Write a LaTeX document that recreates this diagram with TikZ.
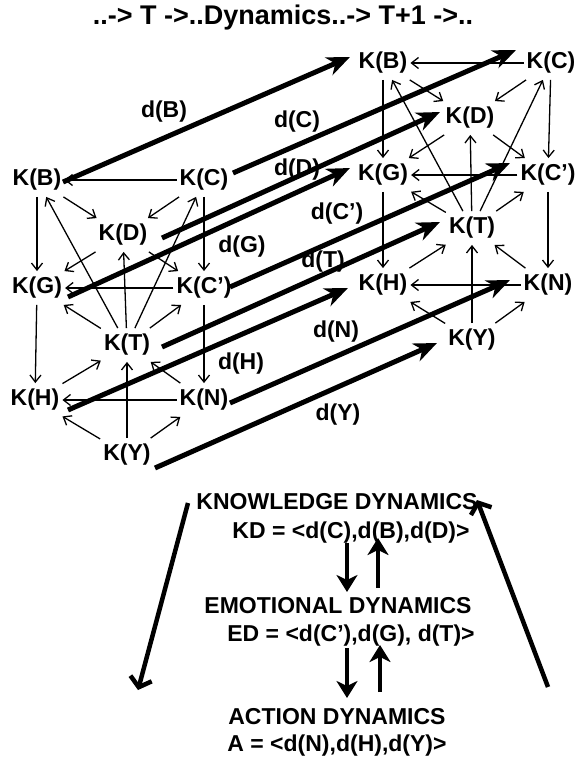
\documentclass[tikz,border=0pt]{standalone}
\usepackage{fontspec}
\setmainfont{Liberation Sans}
\usetikzlibrary{arrows.meta,calc}
\begin{document}
\begin{tikzpicture}[x=1pt,y=-1pt,
  kn/.style={font=\bfseries\fontsize{23}{25}\selectfont, inner xsep=3pt, inner ysep=6pt},
  dl/.style={font=\bfseries\fontsize{23}{25}\selectfont, inner sep=0pt},
  bt/.style={font=\bfseries\fontsize{23}{25}\selectfont, inner sep=0pt},
  thinarr/.style={line width=1.3pt,-{Straight Barb[length=7pt,width=11pt]}},
  thickarr/.style={line width=5pt,-{Stealth[length=23pt,width=19pt,inset=7pt]}},
  bigarr/.style={line width=4.5pt,-{Stealth[length=17pt,width=21pt,inset=5pt]}},
  longarr/.style={line width=4.5pt,-{Straight Barb[length=9pt,width=22pt]}}
]
\useasboundingbox (0,0) rectangle (579,758);
\node[bt,font=\bfseries\fontsize{27}{29}\selectfont] (title) at (283,18) {..-> T ->..Dynamics..-> T+1 ->..};
% left cube (T)
\node[kn] (LB) at (37,180) {K(B)};
\node[kn] (LC) at (204,180) {K(C)};
\node[kn] (LD) at (123,235) {K(D)};
\node[kn] (LG) at (37,288) {K(G)};
\node[kn] (LCp) at (204,288) {K(C’)};
\node[kn] (LT) at (127,345) {K(T)};
\node[kn] (LH) at (35,400) {K(H)};
\node[kn] (LN) at (204,400) {K(N)};
\node[kn] (LY) at (127,455) {K(Y)};
% right cube (T+1)
\node[kn] (RB) at (383,63) {K(B)};
\node[kn] (RC) at (551,63) {K(C)};
\node[kn] (RD) at (470,118) {K(D)};
\node[kn] (RG) at (383,175) {K(G)};
\node[kn] (RCp) at (548,175) {K(C’)};
\node[kn] (RT) at (472,228) {K(T)};
\node[kn] (RH) at (383,285) {K(H)};
\node[kn] (RN) at (548,285) {K(N)};
\node[kn] (RY) at (472,340) {K(Y)};
\foreach \p in {L,R}{
  \foreach \a/\b in {C/B,B/D,C/D,B/G,C/Cp,D/G,D/Cp,Cp/G,T/B,T/D,T/C,T/G,T/Cp,G/H,Cp/N,H/T,N/T,Y/T,N/H,Y/H,Y/N}{
    \draw[thinarr] (\p\a) -- (\p\b);
  }
}
% dynamics arrows
\draw[thickarr] ($(LB)+(26,2)$) -- ($(RB)+(-33,-6)$);
\draw[thickarr] ($(LC)+(29,-7)$) -- ($(RC)+(-35,-13)$);
\draw[thickarr] ($(LD)+(39,3)$) -- ($(RD)+(-30,-6)$);
\draw[thickarr] ($(LG)+(31,9)$) -- ($(RG)+(-33,-7)$);
\draw[thickarr] ($(LCp)+(26,-1)$) -- ($(RCp)+(-38,-12)$);
\draw[thickarr] ($(LT)+(35,2)$) -- ($(RT)+(-32,-6)$);
\draw[thickarr] ($(LH)+(33,10)$) -- ($(RH)+(-35,3)$);
\draw[thickarr] ($(LN)+(26,3)$) -- ($(RN)+(-38,-5)$);
\draw[thickarr] ($(LY)+(28,13)$) -- ($(RY)+(-35,3)$);
\node[dl] (dB) at (164,112) {d(B)};
\node[dl] (dC) at (297,122) {d(C)};
\node[dl] (dD) at (297,170) {d(D)};
\node[dl] (dCp) at (337,214) {d(C’)};
\node[dl] (dG) at (242,247) {d(G)};
\node[dl] (dT) at (323,262) {d(T)};
\node[dl] (dN) at (336,332) {d(N)};
\node[dl] (dH) at (241,364) {d(H)};
\node[dl] (dY) at (338,415) {d(Y)};
% bottom
\node[bt] (KD1) at (337,502) {KNOWLEDGE DYNAMICS};
\node[bt] (KD2) at (351,533) {KD = <d(C),d(B),d(D)>};
\node[bt] (ED1) at (338,606) {EMOTIONAL DYNAMICS};
\node[bt] (ED2) at (351,636) {ED = <d(C’),d(G), d(T)>};
\node[bt] (AD1) at (337,717) {ACTION DYNAMICS};
\node[bt] (AD2) at (337,746) {A = <d(N),d(H),d(Y)>};
\draw[bigarr] ($(KD2)+(-4,10)$) -- ($(ED1)+(9,-14)$);
\draw[bigarr] ($(ED1)+(40,-18)$) -- ($(KD2)+(27,5)$);
\draw[bigarr] ($(ED2)+(-4,12)$) -- ($(AD1)+(10,-19)$);
\draw[bigarr] ($(AD1)+(43,-25)$) -- ($(ED2)+(29,9)$);
\draw[longarr] ($(KD1)+(-149,1)$) -- ($(AD1)+(-199,-27)$);
\draw[longarr] ($(AD1)+(211,-30)$) -- ($(KD1)+(140,-2)$);
\end{tikzpicture}
\end{document}
